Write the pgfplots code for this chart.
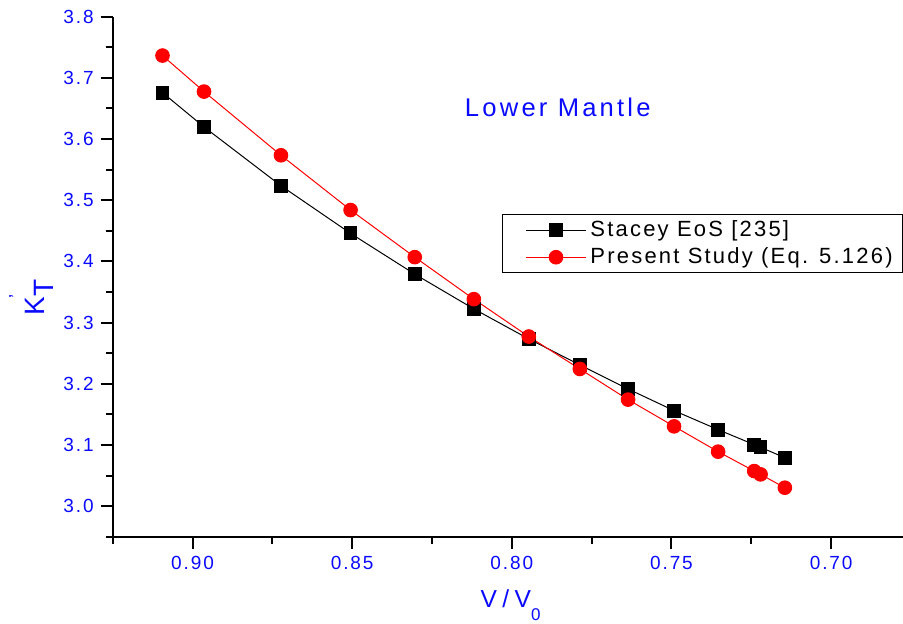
\documentclass[border=0pt]{standalone}
\usepackage{fontspec}
\setmainfont{Liberation Sans}[LetterSpace=10]
\newfontfamily\widefont{Liberation Sans}[LetterSpace=12.5]
\newfontfamily\xwidefont{Liberation Sans}[LetterSpace=22]
\usepackage{pgfplots}
\pgfplotsset{compat=1.18}
\definecolor{lblue}{RGB}{10,10,255}
\begin{document}
\begin{tikzpicture}
\begin{axis}[name=ax,
  scale only axis, width=395.15pt, height=260pt,
  x dir=reverse, xmin=0.6775, xmax=0.925, ymin=2.95, ymax=3.8,
  axis x line*=bottom, axis y line*=left,
  axis line style={line width=1pt},
  tick align=outside, major tick length=6pt, minor tick length=3.5pt,
  tick style={black, line width=1pt},
  xtick={0.70,0.75,0.80,0.85,0.90},
  minor xtick={0.725,0.775,0.825,0.875,0.925},
  ytick={3.0,3.1,3.2,3.3,3.4,3.5,3.6,3.7,3.8},
  minor ytick={2.95,3.05,3.15,3.25,3.35,3.45,3.55,3.65,3.75},
  /pgf/number format/assume math mode=true,
  ticklabel style={font=\fontsize{9.5}{10}\selectfont, text=lblue},
  xticklabel style={/pgf/number format/.cd, fixed, fixed zerofill, precision=2},
  yticklabel style={/pgf/number format/.cd, fixed, fixed zerofill, precision=1},
  xlabel={\xwidefont V/V\raisebox{-6.5pt}{\fontsize{8.5}{9}\selectfont 0}},
  xlabel style={font=\fontsize{12.3}{14}\selectfont, text=lblue, at={(axis description cs:0.5034,-0.1352)}, anchor=base},
  ylabel={K\rlap{\kern-1pt\raisebox{11.5pt}{\fontsize{9}{9}\selectfont '}}\raisebox{-4.5pt}{T}},
  ylabel style={font=\fontsize{14}{16}\selectfont, text=lblue, at={(axis description cs:-0.086,0.46)}, anchor=base},
  legend style={at={(axis description cs:0.4926,0.62)}, anchor=north west, draw=black, line width=0.5pt,
    font=\fontsize{11}{13}\selectfont, inner xsep=3pt, inner ysep=1pt, row sep=0pt},
  legend cell align=left,
  legend image code/.code={\path (-8.5pt,0pt); \draw[mark repeat=2,mark phase=2] plot coordinates {(0pt,0pt) (15pt,0pt) (30pt,0pt)};},
]
\addplot[black, line width=0.5pt, mark=square*, mark size=3.2pt, mark options={solid, fill=black}] coordinates {
(0.9094,3.6759) (0.8964,3.6198) (0.8723,3.5237) (0.8505,3.4458) (0.8304,3.3792)
(0.8119,3.3224) (0.7947,3.2733) (0.7787,3.2308) (0.7636,3.1915) (0.7492,3.1561)
(0.7354,3.1250) (0.7241,3.1005) (0.7221,3.0961) (0.7145,3.0792)};
\addlegendentry{Stacey EoS [235]}
\addplot[red, line width=0.5pt, mark=*, mark size=3.4pt, mark options={solid, fill=red}] coordinates {
(0.9094,3.7365) (0.8964,3.6776) (0.8723,3.5735) (0.8505,3.4840) (0.8304,3.4070)
(0.8119,3.3383) (0.7947,3.2772) (0.7787,3.2242) (0.7636,3.1741) (0.7492,3.1304)
(0.7354,3.0890) (0.7241,3.0573) (0.7221,3.0519) (0.7145,3.0301)};
\addlegendentry{Present Study (Eq. 5.126)}
\node[text=lblue, font=\widefont\fontsize{12.8}{14}\selectfont] at (axis cs:0.7856,3.6525) {Lower Mantle};
\end{axis}
\pgfresetboundingbox
\path (ax.south west) ++(-56.35pt,-43.15pt) rectangle ++(451.5pt,311.5pt);
\end{tikzpicture}
\end{document}
